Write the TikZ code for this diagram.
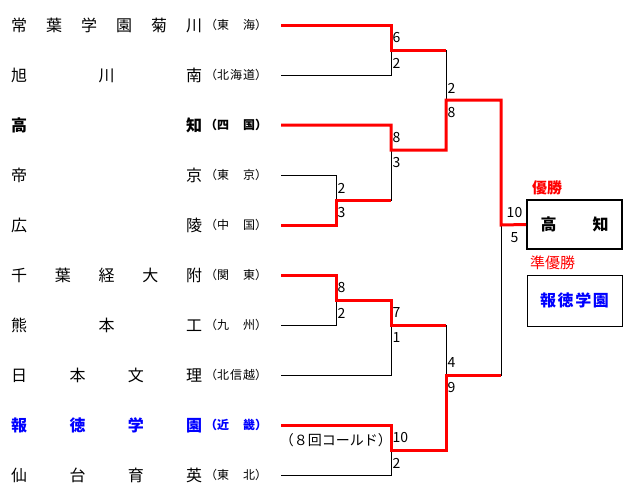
\documentclass[tikz,border=0pt]{standalone}
\usepackage{fontspec}
\setmainfont{Noto Sans CJK JP}
\usepackage{tikz}

\begin{document}
\begin{tikzpicture}[x=1pt, y=-1pt,
  school/.style={anchor=west, inner sep=0pt, font=\fontsize{16}{16}\selectfont},
  area/.style={anchor=west, inner sep=0pt, font=\fontsize{12}{12}\selectfont},
  lose/.style={line width=1pt, black},
  win/.style={line width=3pt, red},
  score/.style={anchor=west, inner sep=0pt, font=\fontsize{14}{14}\selectfont}]
  \useasboundingbox (0,0) rectangle (632,501);

  % teams
  \node[school] (n1) at (11,25) {\makebox[191pt]{常\hfill 葉\hfill 学\hfill 園\hfill 菊\hfill 川}};
  \node[area] (r1) at (205,25) {（\makebox[38pt]{東\hfill 海}）};
  \node[school] (n2) at (11,75) {\makebox[191pt]{旭\hfill 川\hfill 南}};
  \node[area] (r2) at (205,75) {（\makebox[38pt]{北\hfill 海\hfill 道}）};
  \node[school] (n3) at (11,125) {\bfseries \makebox[191pt]{高\hfill 知}};
  \node[area] (r3) at (205,125) {\bfseries （\makebox[38pt]{四\hfill 国}）};
  \node[school] (n4) at (11,175) {\makebox[191pt]{帝\hfill 京}};
  \node[area] (r4) at (205,175) {（\makebox[38pt]{東\hfill 京}）};
  \node[school] (n5) at (11,225) {\makebox[191pt]{広\hfill 陵}};
  \node[area] (r5) at (205,225) {（\makebox[38pt]{中\hfill 国}）};
  \node[school] (n6) at (11,275) {\makebox[191pt]{千\hfill 葉\hfill 経\hfill 大\hfill 附}};
  \node[area] (r6) at (205,275) {（\makebox[38pt]{関\hfill 東}）};
  \node[school] (n7) at (11,325) {\makebox[191pt]{熊\hfill 本\hfill 工}};
  \node[area] (r7) at (205,325) {（\makebox[38pt]{九\hfill 州}）};
  \node[school] (n8) at (11,375) {\makebox[191pt]{日\hfill 本\hfill 文\hfill 理}};
  \node[area] (r8) at (205,375) {（\makebox[38pt]{北\hfill 信\hfill 越}）};
  \node[school, blue] (n9) at (11,425) {\bfseries \makebox[191pt]{報\hfill 徳\hfill 学\hfill 園}};
  \node[area, blue] (r9) at (205,425) {\bfseries （\makebox[38pt]{近\hfill 畿}）};
  \node[school] (n10) at (11,475) {\makebox[191pt]{仙\hfill 台\hfill 育\hfill 英}};
  \node[area] (r10) at (205,475) {（\makebox[38pt]{東\hfill 北}）};

  % where the lines start, and the joins
  \coordinate (lx) at (281,0);
  \foreach \i in {1,...,10}
    \coordinate (s\i) at (lx |- n\i);
  \coordinate (m1) at (391,50);
  \coordinate (m2) at (336,200);
  \coordinate (m3) at (391,150);
  \coordinate (m4) at (446,100);
  \coordinate (m5) at (336,300);
  \coordinate (m6) at (391,325);
  \coordinate (m7) at (391,450);
  \coordinate (m8) at (446,375);
  \coordinate (fin) at (501,225);

  % winner and runner-up
  \node[draw, line width=2pt, minimum width=95pt, minimum height=49pt, inner sep=0pt,
    font=\fontsize{16}{16}\selectfont\bfseries] (champ) at (574.5,224.5) {\makebox[68pt]{高\hfill 知}};
  \node[draw, line width=1pt, minimum width=95pt, minimum height=51pt, inner sep=0pt,
    font=\fontsize{16}{16}\selectfont\bfseries, text=blue] (runner) at (574.5,300.5) {\makebox[69pt]{報\hfill 徳\hfill 学\hfill 園}};
  \node[red, anchor=west, inner sep=0pt, font=\fontsize{15}{15}\selectfont\bfseries] (winlbl) at (532,188) {優勝};
  \node[red, anchor=west, inner sep=0pt, font=\fontsize{15}{15}\selectfont] (runlbl) at (530,263) {準優勝};

  % bracket
  \foreach \a/\b in {s1/m1, s2/m1, s3/m3, s4/m2, s5/m2, m2/m3, m1/m4, m3/m4, m4/fin,
                     s6/m5, s7/m5, m5/m6, s8/m6, s9/m7, s10/m7, m6/m8, m7/m8, m8/fin}
    \draw[lose] (\a) -| (\b);

  \draw[win] (s1) -| (m1) -- (m1 -| m4);
  \draw[win] (s5) -| (m2) -- (m2 -| m3);
  \draw[win] (s3) -| (m3) -| (m4) -| (fin) -- (champ.west);
  \draw[win] (s6) -| (m5) -| (m6) -- (m6 -| m8);
  \draw[win] (s9) -| (m7) -| (m8) -- (m8 -| fin);

  % scores
  \foreach \m/\a/\b in {m1/6/2, m2/2/3, m3/8/3, m4/2/8, m5/8/2, m6/7/1, m7/10/2, m8/4/9} {
    \node[score] (\m-up) at ([shift={(1.5,-12)}]\m) {\a};
    \node[score] (\m-dn) at ([shift={(1.5,13)}]\m) {\b};
  }
  \node[score, anchor=center] (fin-up) at (514.5,213) {10};
  \node[score, anchor=center] (fin-dn) at (514.5,238) {5};

  \node[anchor=east, inner sep=0pt, font=\fontsize{14}{14}\selectfont] (cold) at (392,440) {（８回コールド）};
\end{tikzpicture}
\end{document}
